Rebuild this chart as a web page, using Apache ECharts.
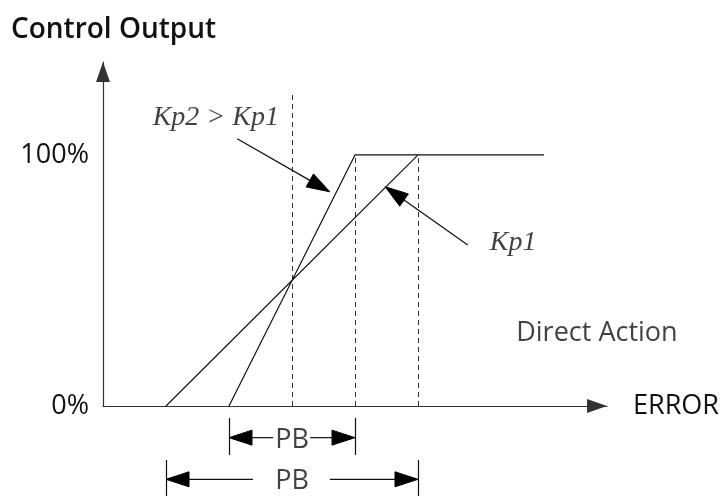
<!DOCTYPE html>
<html>
<head>
<meta charset="utf-8">
<script src="https://cdn.jsdelivr.net/npm/echarts@6/dist/echarts.min.js"></script>
<style>
  html, body { margin: 0; padding: 0; background: #fff; }
  #chart { width: 722px; height: 496px; }
</style>
</head>
<body>
<div id="chart"></div>
<script>
// Proportional band diagram: control output vs error, two gains (Kp2 > Kp1).
// x unit = one step of error, y = control output in %.
const kp1Line = [[1, 0], [5, 100], [7, 100]];
const kp2Line = [[2, 0], [4, 100], [5, 100]];
const guideX = [3, 4, 5];
const guideTop = [124, 100, 100];
const yTicks = { 0: "0%", 100: "100%" };

// pointer arrows [from, to]
const pointers = [
  [[2.13, 106.4], [3.6, 85.3]],
  [[5.79, 64.1], [4.48, 87.3]],
];
// proportional band brackets: [start, end, arrow y, tick top, tick bottom, gap left, gap right]
const bands = [
  [2, 4, -12.6, -4.8, -19.5, 2.7, 3.29],
  [1, 5, -29.2, -21.5, -40, 2.38, 3.6],
];
const notes = [
  { text: "Kp2 > Kp1", at: [1.79, 114.7], serif: true },
  { text: "Kp1", at: [6.51, 65], serif: true },
  { text: "Direct Action", at: [7.84, 29], serif: false },
  { text: "PB", at: [3, -13.8], serif: false },
  { text: "PB", at: [3, -29.8], serif: false },
];

const SANS = "'Open Sans', 'Noto Sans', sans-serif";
const SERIF = "'Liberation Serif', 'DejaVu Serif', serif";
const INK = "#111";
const HEAD_W = 15, HEAD_L = 23;

const arrowSegs = [];
const tickSegs = [];
bands.forEach(([a, b, y, t0, t1, g0, g1]) => {
  arrowSegs.push([g0, y, a, y]);
  arrowSegs.push([g1, y, b, y]);
  tickSegs.push({ coords: [[a, t0], [a, t1]] });
  tickSegs.push({ coords: [[b, t0], [b, t1]] });
});
pointers.forEach(([f, t]) => arrowSegs.push([f[0], f[1], t[0], t[1]]));

// shaft + filled head, tip exactly on the end point
function renderArrow(params, api) {
  const p0 = api.coord([api.value(0), api.value(1)]);
  const p1 = api.coord([api.value(2), api.value(3)]);
  const dx = p1[0] - p0[0], dy = p1[1] - p0[1];
  const len = Math.hypot(dx, dy) || 1;
  const ux = dx / len, uy = dy / len, nx = -uy, ny = ux;
  const bx = p1[0] - ux * HEAD_L, by = p1[1] - uy * HEAD_L;
  return {
    type: "group",
    children: [
      { type: "line", shape: { x1: p0[0], y1: p0[1], x2: bx, y2: by }, style: { stroke: INK, lineWidth: 1.2 } },
      {
        type: "polygon",
        shape: { points: [p1, [bx + nx * HEAD_W / 2, by + ny * HEAD_W / 2], [bx - nx * HEAD_W / 2, by - ny * HEAD_W / 2]] },
        style: { fill: "#000", stroke: "#000", lineWidth: 1 },
      },
    ],
  };
}

const chart = echarts.init(document.getElementById("chart"), null, { renderer: "canvas" });
chart.setOption({
  animation: false,
  title: {
    text: "Control Output", left: 6, top: 11,
    textStyle: { fontFamily: SANS, fontSize: 28, fontWeight: 600, color: INK },
  },
  grid: { left: 103, top: 62, width: 504, height: 344 },
  xAxis: {
    type: "value", min: 0, max: 8,
    axisLine: { show: true, onZero: false, symbol: ["none", "triangle"], symbolSize: [14, 20], symbolOffset: [0, -10],
      lineStyle: { color: "#333", width: 1.2 } },
    axisTick: { show: false }, axisLabel: { show: false }, splitLine: { show: false },
    name: "ERROR", nameLocation: "end", nameGap: 26,
    nameTextStyle: { fontFamily: SANS, fontSize: 27, fontWeight: 500, color: INK, verticalAlign: "middle" },
  },
  yAxis: {
    type: "value", min: 0, max: 137, interval: 100,
    axisLine: { show: true, symbol: ["none", "triangle"], symbolSize: [14, 20], symbolOffset: [0, -10],
      lineStyle: { color: "#333", width: 1.2 } },
    axisTick: { show: false }, splitLine: { show: false },
    axisLabel: {
      margin: 14, fontFamily: SANS, fontSize: 27, color: INK,
      formatter: (v) => yTicks[v] || "",
    },
  },
  series: [
    { type: "line", data: kp1Line, symbol: "none", clip: false, lineStyle: { color: INK, width: 1.2 } },
    { type: "line", data: kp2Line, symbol: "none", clip: false, lineStyle: { color: INK, width: 1.2 } },
    {
      type: "lines", coordinateSystem: "cartesian2d", clip: false,
      data: guideX.map((x, i) => ({ coords: [[x, 0], [x, guideTop[i]]] })),
      lineStyle: { color: "#333", width: 1, type: [5, 4], opacity: 1 },
    },
    {
      type: "lines", coordinateSystem: "cartesian2d", clip: false,
      data: tickSegs, lineStyle: { color: INK, width: 1.2, opacity: 1 },
    },
    {
      type: "custom", coordinateSystem: "cartesian2d", clip: false, silent: true,
      renderItem: renderArrow, data: arrowSegs,
      encode: { x: [0, 2], y: [1, 3] }, z: 5,
    },
    {
      type: "scatter", clip: false, symbolSize: 1, silent: true,
      itemStyle: { color: "transparent" },
      data: notes.map((n) => ({
        value: n.at,
        label: {
          show: true, position: "inside", formatter: n.text, color: INK,
          fontFamily: n.serif ? SERIF : SANS, fontStyle: n.serif ? "italic" : "normal",
          fontSize: n.serif ? 28 : 27,
        },
      })),
    },
  ],
});
</script>
</body>
</html>
